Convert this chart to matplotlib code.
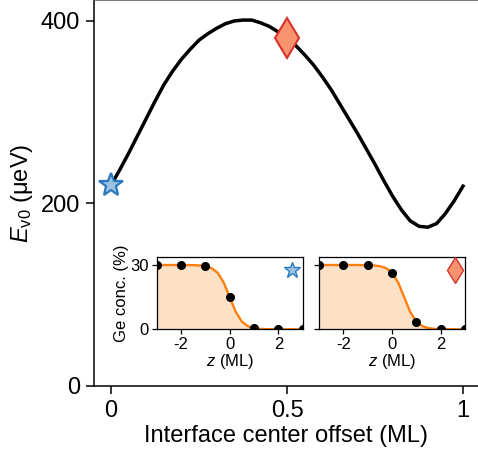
import matplotlib
matplotlib.use("Agg")
import matplotlib.pyplot as plt

plt.rcParams['font.family'] = ['Liberation Sans', 'DejaVu Sans']
plt.rcParams['mathtext.fontset'] = 'custom'
plt.rcParams['mathtext.rm'] = 'Liberation Sans'
plt.rcParams['mathtext.it'] = 'Liberation Sans:italic'
plt.rcParams['axes.unicode_minus'] = False

# Main curve: E_v0 vs interface center offset
offset = [0.0, 0.025, 0.05, 0.075, 0.1, 0.125, 0.15, 0.175, 0.2, 0.225, 0.25,
          0.275, 0.3, 0.325, 0.35, 0.375, 0.4, 0.425, 0.45, 0.475, 0.5,
          0.525, 0.55, 0.575, 0.6, 0.625, 0.65, 0.675, 0.7, 0.725, 0.75,
          0.775, 0.8, 0.825, 0.85, 0.875, 0.9, 0.925, 0.95, 0.975, 1.0]
ev0 = [220, 237, 255, 274, 293, 312, 330, 345, 358, 369, 379,
       386, 392, 397, 400, 401, 401, 398, 394, 388, 381,
       373, 363, 352, 339, 325, 309, 293, 277, 260, 243,
       225, 208, 193, 181, 175, 174, 178, 189, 203, 219]

star_pt = (0.0, 220)
diamond_pt = (0.5, 381)

# Insets: Ge concentration profiles
z_fine = [-3.0, -2.75, -2.5, -2.25, -2.0, -1.75, -1.5, -1.25, -1.0, -0.75, -0.5,
          -0.25, 0.0, 0.25, 0.5, 0.75, 1.0, 1.25, 1.5, 1.75, 2.0, 2.25, 2.5, 2.75, 3.0]
ge_fine_a = [30.0, 30.0, 30.0, 30.0, 30.0, 29.97, 29.93, 29.8, 29.46, 28.57, 26.42,
             21.93, 15.0, 8.07, 3.58, 1.43, 0.54, 0.2, 0.07, 0.03, 0.0, 0.0, 0.0, 0.0, 0.0]
ge_fine_b = [30.0, 30.0, 30.0, 30.0, 30.0, 30.0, 30.0, 29.97, 29.93, 29.8, 29.46,
             28.57, 26.42, 21.93, 15.0, 8.07, 3.58, 1.43, 0.54, 0.2, 0.07, 0.03, 0.0, 0.0, 0.0]
z_pts = [-3, -2, -1, 0, 1, 2, 3]
ge_pts_a = [30.0, 30.0, 29.46, 15.0, 0.54, 0.0, 0.0]
ge_pts_b = [30.0, 30.0, 29.93, 26.42, 3.58, 0.07, 0.0]

W, H = 478, 455
fig = plt.figure(figsize=(W / 100, H / 100), dpi=100)
ax = fig.add_axes([94 / W, 1 - 386 / H, 1 - 94 / W, 386 / H])

ax.plot(offset, ev0, color='black', lw=2.5, zorder=2)
ax.plot([star_pt[0]], [star_pt[1]], marker='*', ms=18, mfc='#9cc1e3', mec='#2a78bd',
        mew=1.6, zorder=3, clip_on=False)
ax.plot([diamond_pt[0]], [diamond_pt[1]], marker='d', ms=20, mfc='#f7946f', mec='#d8322b',
        mew=1.5, zorder=3, clip_on=False)

ax.set_xlim(-17 / 352, 367 / 352)
ax.set_ylim(0, 423)
ax.set_xticks([0, 0.5, 1])
ax.set_xticklabels(['0', '0.5', '1'])
ax.set_yticks([0, 200, 400])
ax.tick_params(axis='both', labelsize=17, length=6, width=1.1, direction='out', pad=4)
for s in ['left', 'bottom', 'top']:
    ax.spines[s].set_linewidth(1.1)
ax.spines['top'].set_color('#555555')
ax.spines['right'].set_visible(False)
ax.set_xlabel('Interface center offset (ML)', fontsize=17, labelpad=2)
ax.set_ylabel(r'$E_{\mathrm{v0}}$ (μeV)', fontsize=17, labelpad=4)


def make_inset(left, fine, pts, marker, ms, mfc, mec, ylabels):
    ia = fig.add_axes([left / W, 1 - 329.3 / H, 146 / W, 72 / H])
    ia.fill_between(z_fine, fine, 0, color='#fde1c6', lw=0, zorder=1)
    ia.plot(z_fine, fine, color='#ff7f0e', lw=1.7, zorder=2)
    ia.plot(z_pts, pts, 'o', color='black', ms=5.5, zorder=3)
    ia.plot([0.93], [0.82], marker=marker, ms=ms, mfc=mfc, mec=mec, mew=1.0,
            transform=ia.transAxes, zorder=4)
    ia.set_xlim(-3, 3)
    ia.set_ylim(0, 33.6)
    ia.set_xticks([-2, 0, 2])
    ia.set_yticks([0, 30])
    if not ylabels:
        ia.set_yticklabels([])
    ia.tick_params(axis='both', labelsize=12, length=3.5, width=0.9, pad=2)
    for s in ia.spines.values():
        s.set_linewidth(0.9)
    ia.set_xlabel(r'$z$ (ML)', fontsize=12, labelpad=0)
    return ia


ia1 = make_inset(156.7, ge_fine_a, ge_pts_a, '*', 12, '#9cc1e3', '#2a78bd', True)
ia1.set_ylabel('Ge conc. (%)', fontsize=12, labelpad=1)
ia2 = make_inset(319, ge_fine_b, ge_pts_b, 'd', 13, '#f7946f', '#d8322b', False)

fig.savefig('out.png', dpi=100)
